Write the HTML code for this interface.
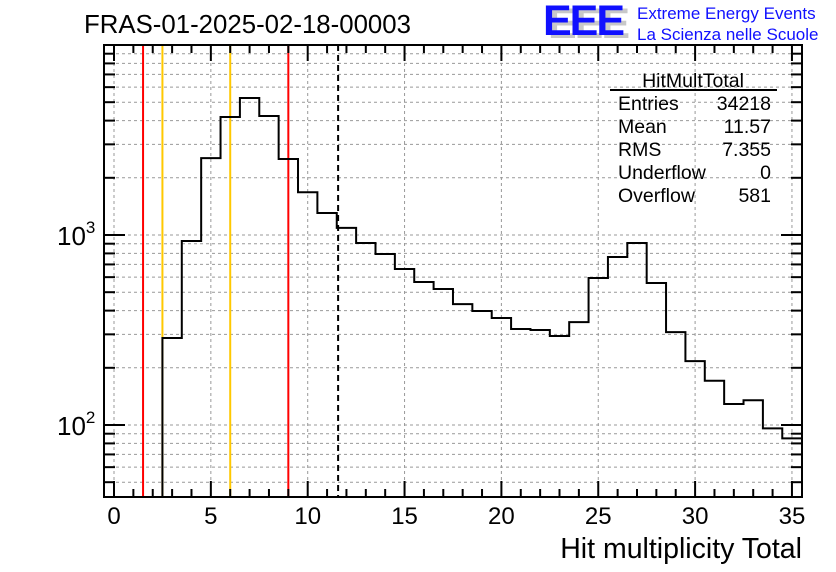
<!DOCTYPE html>
<html><head><meta charset="utf-8"><style>
body{margin:0;background:#fff;}
svg{display:block;font-family:"Liberation Sans",sans-serif;}
</style></head><body>
<svg id="c" width="836" height="572" viewBox="0 0 836 572">
<rect width="836" height="572" fill="#fff"/>
<text x="84" y="33" font-size="25.8">FRAS-01-2025-02-18-00003</text>
<g>
<text x="548" y="38" font-size="43" font-weight="bold" fill="#c8c8c8" letter-spacing="-2">EEE</text>
<text x="543" y="35" font-size="43" font-weight="bold" fill="#1010ff" letter-spacing="-2">EEE</text>
<text x="637" y="19" font-size="17" fill="#1010ff">Extreme Energy Events</text>
<text x="637" y="40" font-size="17" fill="#1010ff">La Scienza nelle Scuole</text>
</g>
<g id="grid"></g><g id="lines"></g><path id="hist" fill="none" stroke="#000" stroke-width="2"/>
<g id="axes"></g>
<g font-size="19.5">
<text x="693" y="87" text-anchor="middle">HitMultTotal</text>
<line x1="610" y1="90" x2="777" y2="90" stroke="#000" stroke-width="2"/>
<text x="618" y="110">Entries</text><text x="771" y="110" text-anchor="end">34218</text>
<text x="618" y="133">Mean</text><text x="771" y="133" text-anchor="end">11.57</text>
<text x="618" y="156">RMS</text><text x="771" y="156" text-anchor="end">7.355</text>
<text x="618" y="179">Underflow</text><text x="771" y="179" text-anchor="end">0</text>
<text x="618" y="202">Overflow</text><text x="771" y="202" text-anchor="end">581</text>
</g>
<text x="802" y="558" font-size="28.5" text-anchor="end">Hit multiplicity Total</text>
</svg>
<script>
const binCenters=[0,1,2,3,4,5,6,7,8,9,10,11,12,13,14,15,16,17,18,19,20,21,22,23,24,25,26,27,28,29,30,31,32,33,34,35];
const binCounts=[0,0,0,287,930,2540,4180,5260,4230,2510,1680,1305,1090,908,794,662,566,520,433,398,366,320,316,294,348,594,766,908,559,308,217,171,129,135,96,85];
const xTicks=[0,5,10,15,20,25,30,35];
const yDecades=[100,1000];
const redLines=[1.5,9];
const yellowLines=[2.5,6];
const meanLine=[11.57];
const L=104,R=802,T=45,B=497;
const X=v=>114+v*19.37;
const Y=v=>235-(Math.log10(v)-3)*190;
const ns='http://www.w3.org/2000/svg';
function mk(p,t,a){const e=document.createElementNS(ns,t);for(const k in a)e.setAttribute(k,a[k]);p.appendChild(e);return e;}
const grid=document.getElementById('grid'),axes=document.getElementById('axes'),lines=document.getElementById('lines');
xTicks.forEach(t=>{const g=mk(grid,'line',{x1:X(t),x2:X(t),y1:T,y2:B,stroke:'#999','stroke-dasharray':'3,3'});

});
for(let e=1;e<=4;e++){for(let k=1;k<=9;k++){const v=k*Math.pow(10,e);const y=Y(v);if(y<T||y>B)continue;
const g=mk(grid,'line',{x1:L,x2:R,y1:y,y2:y,stroke:'#999','stroke-dasharray':'3,3'});


const len=k==1?21:11;
mk(axes,'line',{x1:L,x2:L+len,y1:y,y2:y,stroke:'#000','stroke-width':2});
mk(axes,'line',{x1:R,x2:R-len,y1:y,y2:y,stroke:'#000','stroke-width':2});}}
yDecades.forEach(v=>{const t=mk(axes,'text',{x:57,y:Y(v)+10,'font-size':26});


t.innerHTML='10<tspan dy="-12" font-size="17">'+Math.round(Math.log10(v))+'</tspan>';});
for(let v=0;v<=35;v++){const len=v%5==0?16:8;const x=X(v);
mk(axes,'line',{x1:x,x2:x,y1:B,y2:B-len,stroke:'#000','stroke-width':2});
mk(axes,'line',{x1:x,x2:x,y1:T,y2:T+len,stroke:'#000','stroke-width':2});}
xTicks.forEach(v=>{const t=mk(axes,'text',{x:X(v),y:524,'font-size':24,'text-anchor':'middle'});


t.textContent=v;});
const fr=mk(axes,'rect',{x:L,y:T,width:R-L,height:B-T,fill:'none',stroke:'#000','stroke-width':2});


redLines.forEach(v=>{const l=mk(lines,'line',{x1:X(v),x2:X(v),y1:T,y2:B,stroke:'#f00','stroke-width':2});

});
yellowLines.forEach(v=>{const l=mk(lines,'line',{x1:X(v),x2:X(v),y1:T,y2:B,stroke:'#ffc800','stroke-width':2});

});
meanLine.forEach(v=>{const l=mk(lines,'line',{x1:X(v),x2:X(v),y1:T,y2:B,stroke:'#000','stroke-width':2,'stroke-dasharray':'6,4'});

});
let d='',prev=null;
binCenters.forEach((c,i)=>{const v=binCounts[i];const y=v>0?Math.max(T,Math.min(B,Y(v))):B;
const x0=X(c-0.5),x1=X(c+0.5);
if(prev===null)d+='M'+x0+','+y;else d+='L'+x0+','+y;
d+='L'+x1+','+y;prev=y;});
document.getElementById('hist').setAttribute('d',d);
</script>
</body></html>
